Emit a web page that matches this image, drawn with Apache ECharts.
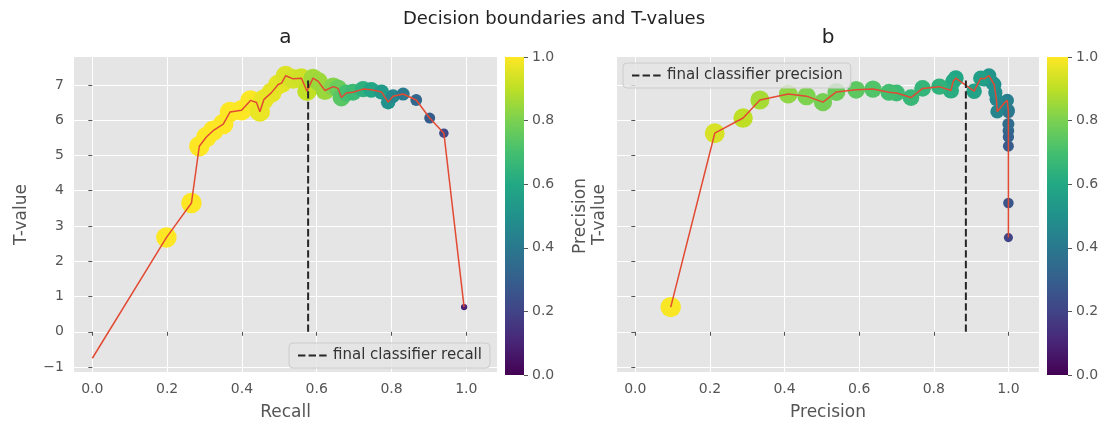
<!DOCTYPE html>
<html><head><meta charset="utf-8">
<script src="https://cdn.jsdelivr.net/npm/echarts@6/dist/echarts.min.js"></script>
<style>html,body{margin:0;padding:0;background:#fff}#c{width:1108px;height:426px}</style>
</head><body><div id="c"></div>
<script>
// one entry per decision boundary (ordered by recall)
const recall = [0.000, 0.198, 0.265, 0.286, 0.305, 0.323, 0.350, 0.368, 0.399, 0.423, 0.439, 0.448, 0.459, 0.479, 0.497, 0.506, 0.517, 0.537, 0.559, 0.574, 0.590, 0.604, 0.622, 0.644, 0.657, 0.666, 0.679, 0.697, 0.724, 0.746, 0.773, 0.791, 0.804, 0.831, 0.866, 0.902, 0.940, 0.994];
const precision = [null, 1.00, 1.00, 1.00, 1.00, 1.00, 1.00, 1.00, 1.00, 0.997, 0.990, 0.970, 0.968, 0.965, 0.962, 0.958, 0.948, 0.935, 0.926, 0.908, 0.859, 0.852, 0.846, 0.815, 0.770, 0.739, 0.700, 0.680, 0.637, 0.592, 0.539, 0.503, 0.459, 0.410, 0.334, 0.289, 0.213, 0.095];
const tValue = [-0.75, 2.67, 3.65, 5.26, 5.52, 5.70, 5.89, 6.23, 6.28, 6.56, 6.50, 6.24, 6.59, 6.78, 7.01, 7.05, 7.26, 7.17, 7.19, 6.82, 7.19, 7.10, 6.84, 6.95, 6.90, 6.64, 6.77, 6.79, 6.88, 6.86, 6.80, 6.51, 6.68, 6.74, 6.57, 6.06, 5.63, 0.70];
const finalRecall = 0.577;
const finalPrecision = 0.886;
const finalLineY = [0, 7.18];
const xTicks = [0, 0.2, 0.4, 0.6, 0.8, 1.0];
const yTicks = [-1, 0, 1, 2, 3, 4, 5, 6, 7];
const cbarValue = [1];
const viridis = ['#440154', '#482475', '#414487', '#355f8d', '#2a788e', '#21918c', '#22a884', '#44bf70', '#7ad151', '#bddf26', '#fde725'];

const FONT = 'DejaVu Sans';
const GRAY = '#555555';
const chart = echarts.init(document.getElementById('c'), null, {renderer: 'canvas'});

const leftScatter = [], rightScatter = [], leftLine = [], rightLine = [];
recall.forEach((r, i) => {
  leftLine.push([r, tValue[i]]);
  if (precision[i] !== null) {
    leftScatter.push([r, tValue[i], precision[i]]);
    rightScatter.push([precision[i], tValue[i], r]);
    rightLine.push([precision[i], tValue[i]]);
  }
});

const fmtTick = v => (v < 0 ? '\u2212' + Math.abs(v) : String(v));
const fmt1 = v => (Math.round(v * 10) / 10).toFixed(1);

function xAxisDef(grid, name) {
  return {
    type: 'value', gridIndex: grid, min: -0.049, max: 1.082,
    name: name, nameLocation: 'middle', nameGap: 32,
    nameTextStyle: {color: GRAY, fontSize: 17, fontFamily: FONT},
    axisLine: {show: false},
    axisTick: {show: true, customValues: xTicks, length: 4, lineStyle: {color: GRAY}},
    axisLabel: {customValues: xTicks, formatter: fmt1, color: GRAY, fontSize: 14, fontFamily: FONT, margin: 10},
    splitLine: {show: true, lineStyle: {color: '#ffffff', width: 1}}
  };
}
function yAxisDef(grid, showLabels) {
  return {
    type: 'value', gridIndex: grid, min: -1.14, max: 7.79,
    name: 'T-value', nameLocation: 'middle', nameGap: showLabels ? 44 : 9,
    nameTextStyle: {color: GRAY, fontSize: 17, fontFamily: FONT},
    axisLine: {show: false},
    axisTick: {show: true, customValues: yTicks, length: 4, lineStyle: {color: GRAY}},
    axisLabel: {show: showLabels, customValues: yTicks, formatter: fmtTick, color: GRAY, fontSize: 14, fontFamily: FONT, margin: 10},
    splitLine: {show: true, lineStyle: {color: '#ffffff', width: 1}}
  };
}
function cbarY(grid, name) {
  return {
    type: 'value', gridIndex: grid, min: 0, max: 1, interval: 0.2, position: 'right',
    name: name, nameLocation: 'middle', nameGap: 48, nameRotate: 90,
    nameTextStyle: {color: GRAY, fontSize: 17, fontFamily: FONT},
    axisLine: {show: false},
    axisTick: {show: true, length: 4, lineStyle: {color: GRAY}},
    axisLabel: {formatter: fmt1, color: GRAY, fontSize: 14, fontFamily: FONT, margin: 8},
    splitLine: {show: false}
  };
}
const gradient = {type: 'linear', x: 0, y: 1, x2: 0, y2: 0,
  colorStops: viridis.map((c, i) => ({offset: i / (viridis.length - 1), color: c}))};
const symSize = v => 20.5 * Math.sqrt(v[2]);
const dashStyle = {color: '#262626', width: 2, type: [7.4, 3.2]};

const legendCommon = {
  orient: 'vertical', padding: [5, 8], itemWidth: 30, itemHeight: 14, itemGap: 5,
  backgroundColor: 'rgba(229,229,229,0.8)', borderColor: '#cccccc', borderWidth: 1, borderRadius: 4,
  textStyle: {color: '#333333', fontSize: 15, fontFamily: FONT},
  itemStyle: {opacity: 0},
  selectedMode: false
};

chart.setOption({
  animation: false,
  backgroundColor: '#ffffff',
  textStyle: {fontFamily: FONT},
  title: [
    {text: 'Decision boundaries and T-values', left: 'center', top: 10, padding: 0,
     textStyle: {color: '#222222', fontSize: 18, fontWeight: 'normal', fontFamily: FONT}},
    {text: 'a', left: 285.5, textAlign: 'center', top: 28, padding: 0,
     textStyle: {color: '#222222', fontSize: 20, fontWeight: 'normal', fontFamily: FONT}},
    {text: 'b', left: 828, textAlign: 'center', top: 28, padding: 0,
     textStyle: {color: '#222222', fontSize: 20, fontWeight: 'normal', fontFamily: FONT}}
  ],
  grid: [
    {left: 74, top: 57, width: 423, height: 319, show: true, backgroundColor: '#E5E5E5', borderWidth: 0},
    {left: 617, top: 57, width: 422, height: 319, show: true, backgroundColor: '#E5E5E5', borderWidth: 0},
    {left: 505, top: 57, width: 19, height: 318, show: false},
    {left: 1047, top: 57, width: 21, height: 318, show: false}
  ],
  xAxis: [
    xAxisDef(0, 'Recall'),
    xAxisDef(1, 'Precision'),
    {type: 'category', gridIndex: 2, data: ['cb'], show: false},
    {type: 'category', gridIndex: 3, data: ['cb'], show: false}
  ],
  yAxis: [
    yAxisDef(0, true),
    yAxisDef(1, false),
    cbarY(2, 'Precision'),
    cbarY(3, '')
  ],
  visualMap: [{
    type: 'continuous', show: false, min: 0, max: 1, dimension: 2, seriesIndex: [0, 3],
    inRange: {color: viridis}
  }],
  legend: [
    Object.assign({}, legendCommon, {data: ['final classifier recall'], left: 289, top: 343}),
    Object.assign({}, legendCommon, {data: ['final classifier precision'], left: 623, top: 63})
  ],
  series: [
    {type: 'scatter', xAxisIndex: 0, yAxisIndex: 0, data: leftScatter, symbolSize: symSize, z: 2, itemStyle: {opacity: 1}},
    {type: 'line', xAxisIndex: 0, yAxisIndex: 0, data: leftLine, showSymbol: false, symbol: 'none', z: 3,
     lineStyle: {color: '#E24A33', width: 1.5}},
    {name: 'final classifier recall', type: 'line', xAxisIndex: 0, yAxisIndex: 0, symbol: 'none', z: 4,
     data: finalLineY.map(y => [finalRecall, y]), lineStyle: dashStyle, itemStyle: {color: '#262626'}},
    {type: 'scatter', xAxisIndex: 1, yAxisIndex: 1, data: rightScatter, symbolSize: symSize, z: 2, itemStyle: {opacity: 1}},
    {type: 'line', xAxisIndex: 1, yAxisIndex: 1, data: rightLine, showSymbol: false, symbol: 'none', z: 3,
     lineStyle: {color: '#E24A33', width: 1.5}},
    {name: 'final classifier precision', type: 'line', xAxisIndex: 1, yAxisIndex: 1, symbol: 'none', z: 4,
     data: finalLineY.map(y => [finalPrecision, y]), lineStyle: dashStyle, itemStyle: {color: '#262626'}},
    {type: 'bar', xAxisIndex: 2, yAxisIndex: 2, data: cbarValue, barWidth: '100%', itemStyle: {color: gradient}, silent: true},
    {type: 'bar', xAxisIndex: 3, yAxisIndex: 3, data: cbarValue, barWidth: '100%', itemStyle: {color: gradient}, silent: true}
  ]
});
</script></body></html>
